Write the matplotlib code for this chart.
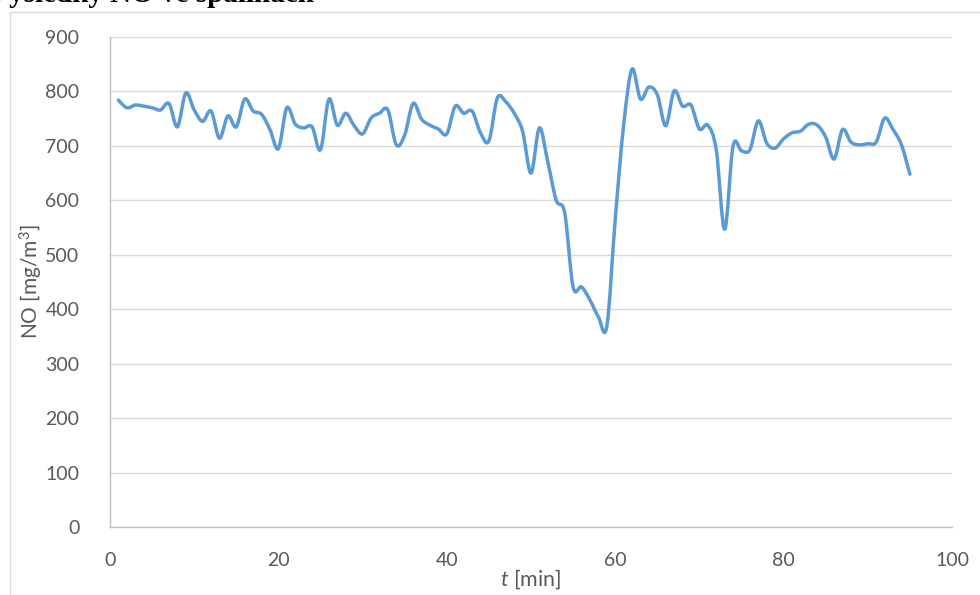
import numpy as np
import matplotlib
matplotlib.use("Agg")
import matplotlib.pyplot as plt
from matplotlib.path import Path
from matplotlib.patches import PathPatch, Rectangle

t_min = list(range(1, 96))
no_values = [784, 770, 775, 773, 770, 766, 778, 735, 797, 766,
             745, 764, 714, 755, 735, 786, 764, 758, 730, 695,
             770, 740, 733, 735, 693, 786, 738, 760, 737, 722,
             751, 760, 766, 702, 720, 778, 749, 738, 731, 722,
             773, 760, 764, 724, 709, 788, 781, 760, 727, 650,
             733, 670, 600, 577, 441, 441, 417, 386, 368, 564,
             738, 841, 786, 808, 794, 737, 801, 773, 775, 731,
             738, 693, 547, 700, 691, 693, 746, 705, 696, 713,
             724, 727, 740, 738, 716, 676, 730, 707, 702, 704,
             707, 751, 730, 702, 648]
x_ticks = [0, 20, 40, 60, 80, 100]
y_ticks = [0, 100, 200, 300, 400, 500, 600, 700, 800, 900]

plt.rcParams['font.family'] = ['Lato', 'DejaVu Sans']
plt.rcParams['mathtext.fontset'] = 'custom'
plt.rcParams['mathtext.rm'] = 'Lato'
plt.rcParams['mathtext.it'] = 'Lato:italic'

fig = plt.figure(figsize=(9.8, 5.95), dpi=100)
ax = fig.add_axes([110/980, 1-527/595, (952-110)/980, (527-37)/595])

# smooth line like Excel: Catmull-Rom -> cubic Bezier path
x = np.array(t_min, dtype=float)
y = np.array(no_values, dtype=float)
verts = [(x[0], y[0])]
codes = [Path.MOVETO]
n = len(x)
for i in range(n - 1):
    p0 = (x[i-1], y[i-1]) if i > 0 else (x[i], y[i])
    p1 = (x[i], y[i])
    p2 = (x[i+1], y[i+1])
    p3 = (x[i+2], y[i+2]) if i + 2 < n else (x[i+1], y[i+1])
    c1 = (p1[0] + (p2[0]-p0[0])/6, p1[1] + (p2[1]-p0[1])/6)
    c2 = (p2[0] - (p3[0]-p1[0])/6, p2[1] - (p3[1]-p1[1])/6)
    verts += [c1, c2, p2]
    codes += [Path.CURVE4]*3
ax.add_patch(PathPatch(Path(verts, codes), facecolor='none', edgecolor='#5B9BD5',
                       lw=2.5, capstyle='round', joinstyle='round', zorder=3))

ax.set_xlim(0, 100)
ax.set_ylim(0, 900)
ax.set_xticks(x_ticks)
ax.set_yticks(y_ticks)
ax.grid(axis='y', color='#D9D9D9', lw=1.0)
ax.set_axisbelow(True)
for s in ['top', 'right']:
    ax.spines[s].set_visible(False)
for s in ['left', 'bottom']:
    ax.spines[s].set_color('#BFBFBF')
    ax.spines[s].set_linewidth(1.0)
ax.tick_params(length=0, labelsize=14, labelcolor='#595959')
ax.tick_params(axis='y', pad=22)
ax.tick_params(axis='x', pad=18)
ax.set_ylabel('NO [mg/m$^3$]', fontsize=15, color='#595959', labelpad=0)
ax.set_xlabel('$t$ [min]', fontsize=15.5, color='#595959', labelpad=-1)

# chart area border
fig.add_artist(Rectangle((10/980, -0.01), 1.0, 1 - 12/595 + 0.01, transform=fig.transFigure,
                         facecolor='none', edgecolor='#D9D9D9', lw=1.0))

fig.text(-12/980, 1 + 6/595, 'Výsledky NO ve spalinách', fontsize=21, fontweight='bold',
         family='Liberation Serif', ha='left', va='center', color='black')

fig.savefig('out.png', dpi=100)
